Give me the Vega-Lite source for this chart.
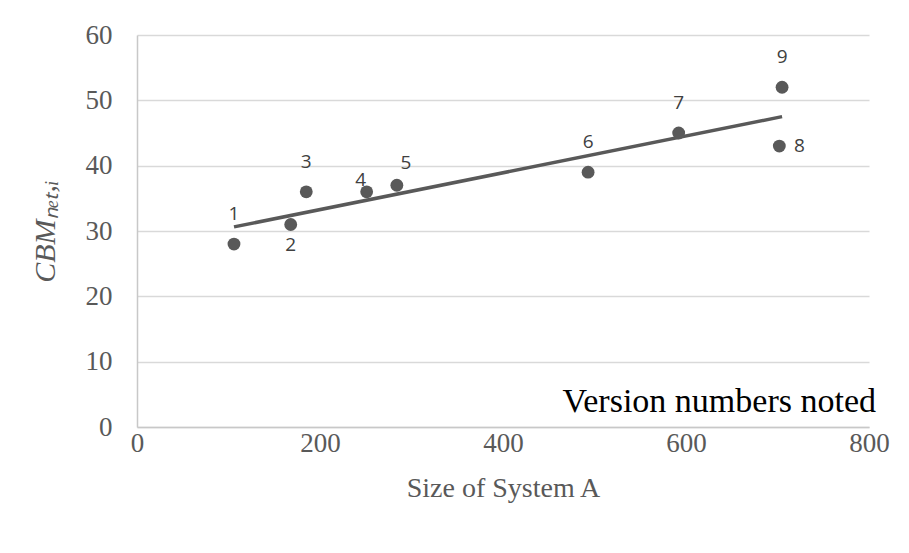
{
  "$schema": "https://vega.github.io/schema/vega-lite/v6.json",
  "width": 732,
  "height": 392,
  "autosize": {"type": "none"},
  "padding": {"left": 137, "top": 35, "right": 40, "bottom": 126},
  "background": "white",
  "config": {
    "view": {"stroke": null},
    "axis": {
      "labelFont": "Liberation Serif",
      "titleFont": "Liberation Serif",
      "labelColor": "#595959",
      "titleColor": "#595959",
      "labelFontSize": 27,
      "titleFontSize": 28,
      "titleFontWeight": "normal",
      "ticks": false,
      "domainColor": "#c8c8c8",
      "domainWidth": 1.5,
      "gridColor": "#d9d9d9",
      "gridWidth": 1.5
    }
  },
  "data": {
    "values": [
      {"v": 1, "size": 106, "cbm": 28},
      {"v": 2, "size": 168, "cbm": 31},
      {"v": 3, "size": 185, "cbm": 36},
      {"v": 4, "size": 251, "cbm": 36},
      {"v": 5, "size": 284, "cbm": 37},
      {"v": 6, "size": 493, "cbm": 39},
      {"v": 7, "size": 592, "cbm": 45},
      {"v": 8, "size": 702, "cbm": 43},
      {"v": 9, "size": 705, "cbm": 52}
    ]
  },
  "encoding": {
    "x": {
      "field": "size",
      "type": "quantitative",
      "scale": {"domain": [0, 800], "nice": false},
      "axis": {
        "title": "Size of System A",
        "values": [0, 200, 400, 600, 800],
        "grid": false,
        "labelPadding": 3,
        "titlePadding": 18,
        "labelFlush": false
      }
    },
    "y": {
      "field": "cbm",
      "type": "quantitative",
      "scale": {"domain": [0, 60], "nice": false},
      "axis": {
        "title": "CBMₙₑₜ,ᵢ",
        "titleFontStyle": "italic",
        "titleFontSize": 30,
        "values": [0, 10, 20, 30, 40, 50, 60],
        "grid": true,
        "labelPadding": 25,
        "titlePadding": 25,
        "labelFlush": false
      }
    }
  },
  "layer": [
    {
      "transform": [
        {"regression": "cbm", "on": "size", "method": "linear", "extent": [106, 705]}
      ],
      "mark": {"type": "line", "color": "#595959", "strokeWidth": 3.5}
    },
    {
      "mark": {"type": "circle", "color": "#595959", "opacity": 1, "size": 165}
    },
    {
      "transform": [{"filter": {"field": "v", "oneOf": [1, 3, 6, 7, 9]}}],
      "mark": {"type": "text", "font": "Open Sans", "fontSize": 19, "fill": "#404040", "baseline": "middle", "align": "center", "dy": -30},
      "encoding": {"text": {"field": "v", "type": "nominal"}}
    },
    {
      "transform": [{"filter": "datum.v == 2"}],
      "mark": {"type": "text", "font": "Open Sans", "fontSize": 19, "fill": "#404040", "baseline": "middle", "align": "center", "dy": 21},
      "encoding": {"text": {"field": "v", "type": "nominal"}}
    },
    {
      "transform": [{"filter": "datum.v == 4"}],
      "mark": {"type": "text", "font": "Open Sans", "fontSize": 19, "fill": "#404040", "baseline": "middle", "align": "center", "dx": -6, "dy": -12},
      "encoding": {"text": {"field": "v", "type": "nominal"}}
    },
    {
      "transform": [{"filter": "datum.v == 5"}],
      "mark": {"type": "text", "font": "Open Sans", "fontSize": 19, "fill": "#404040", "baseline": "middle", "align": "center", "dx": 9, "dy": -22},
      "encoding": {"text": {"field": "v", "type": "nominal"}}
    },
    {
      "transform": [{"filter": "datum.v == 8"}],
      "mark": {"type": "text", "font": "Open Sans", "fontSize": 19, "fill": "#404040", "baseline": "middle", "align": "center", "dx": 20},
      "encoding": {"text": {"field": "v", "type": "nominal"}}
    },
    {
      "data": {"values": [{"label": "Version numbers noted", "size": 800, "cbm": 0}]},
      "mark": {"type": "text", "font": "Times New Roman, Liberation Serif, serif", "fontStyle": "normal", "fontWeight": "normal", "fontSize": 34, "fill": "#000000", "align": "right", "baseline": "alphabetic", "dx": 7, "dy": -15},
      "encoding": {
        "text": {"field": "label", "type": "nominal"}
      }
    }
  ]
}
